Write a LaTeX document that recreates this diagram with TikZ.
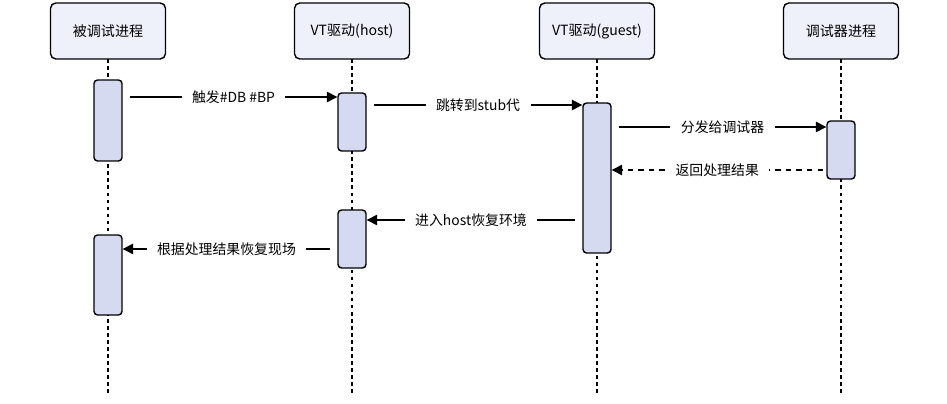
\documentclass[tikz,border=0pt]{standalone}
\usepackage{fontspec}
\setmainfont{Noto Sans CJK SC}
\usetikzlibrary{arrows.meta}
\definecolor{headfill}{HTML}{EEF0FA}
\definecolor{actfill}{HTML}{D5DAF0}
\tikzset{
  head/.style={draw,thick,fill=headfill,rounded corners=3pt,minimum width=2.3cm,minimum height=1.12cm,font=\fontsize{8}{10}\selectfont},
  act/.style={draw,thick,fill=actfill,rounded corners=2pt,minimum width=0.56cm,inner sep=0pt},
  life/.style={thick,dash pattern=on 2pt off 2pt},
  msg/.style={thick,-{Triangle[length=6pt,width=6pt]}},
  lbl/.style={fill=white,inner xsep=6pt,font=\fontsize{7.9}{9}\selectfont}
}
\begin{document}
\begin{tikzpicture}[x=0.02cm,y=-0.02cm]
\useasboundingbox (0,0) rectangle (947,404);
% lifelines
\foreach \n/\x in {p1/108,p2/352,p3/597,p4/841}
  \draw[life] (\x,59) -- (\x,395);
\node[head] (p1) at (108,31) {被调试进程};
\node[head] (p2) at (352,31) {VT驱动(host)};
\node[head] (p3) at (597,31) {VT驱动(guest)};
\node[head] (p4) at (841,31) {调试器进程};
% activations
\node[act,minimum height=1.62cm] (a1) at (108,120.5) {};
\node[act,minimum height=1.16cm] (a2) at (352,122) {};
\node[act,minimum height=3.0cm] (a3) at (597,178) {};
\node[act,minimum height=1.16cm] (a4) at (841,150) {};
\node[act,minimum height=1.16cm] (a5) at (352,239) {};
\node[act,minimum height=1.6cm] (a6) at (108,275) {};
% messages
\draw[msg] ([xshift=4pt]a1.east |- 0,97) -- node[lbl] {触发\#DB \#BP} (a2.west |- 0,97);
\draw[msg] ([xshift=4pt]a2.east |- 0,105) -- node[lbl] {跳转到stub代} (a3.west |- 0,105);
\draw[msg] ([xshift=4pt]a3.east |- 0,127) -- node[lbl] {分发给调试器} (a4.west |- 0,127);
\draw[msg,dash pattern=on 3pt off 3pt] ([xshift=-2pt]a4.west |- 0,170) -- node[lbl] {返回处理结果} (a3.east |- 0,170);
\draw[msg] ([xshift=-4pt]a3.west |- 0,220) -- node[lbl] {进入host恢复环境} (a5.east |- 0,220);
\draw[msg] ([xshift=-4pt]a5.west |- 0,249) -- node[lbl] {根据处理结果恢复现场} (a6.east |- 0,249);
\end{tikzpicture}
\end{document}
